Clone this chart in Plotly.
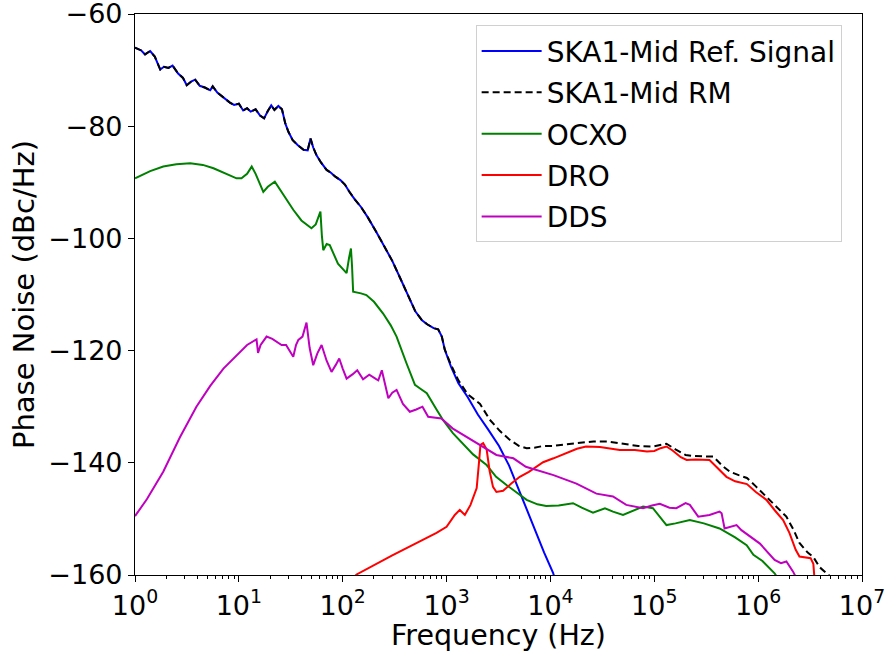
import plotly.graph_objects as go

# ---- data ----
ref_freq = [1, 1.15, 1.25, 1.4, 1.55, 1.75, 1.9, 2.1, 2.3, 2.6, 2.9, 3.15, 3.5, 3.8, 4.2, 4.7, 5.3, 5.6,
            6.2, 7.0, 8.2, 9.0, 10, 11, 12, 13, 14.5, 16, 17.5, 19, 20.5, 22, 24, 26, 28, 30, 33, 37, 42,
            46, 49, 52, 56, 62, 70, 77, 85, 95, 105, 115, 130, 150, 175, 210, 250, 300, 360, 430, 500,
            580, 650, 750, 830, 900, 960, 1100, 1300, 1600, 2000, 2500, 3200, 4000, 5000, 6000, 7300,
            8700, 10600, 12000]
ref_db = [-66.0, -66.5, -67.2, -66.6, -67.6, -69.9, -69.4, -69.6, -69.2, -70.6, -71.4, -72.7, -72.0,
          -71.7, -72.8, -73.1, -73.6, -72.9, -74.0, -74.8, -75.8, -76.2, -76.0, -77.2, -76.8, -77.4,
          -77.0, -78.1, -78.6, -77.3, -76.3, -77.1, -76.4, -77.0, -79.5, -81.0, -82.5, -83.4, -84.2,
          -84.3, -82.2, -83.8, -85.2, -86.5, -87.8, -88.3, -89.0, -89.6, -90.4, -91.6, -93.0, -94.4,
          -96.3, -98.8, -101.3, -104.0, -107.2, -110.4, -113.0, -114.6, -115.3, -116.0, -116.2,
          -117.5, -119.8, -122.8, -125.8, -128.3, -131.4, -134.0, -137.0, -140.5, -145.0, -148.5,
          -152.5, -156.0, -159.6, -163.0]

rm_split = 65  # RM follows the reference signal up to ~960 Hz
rm_freq_hi = [1100, 1300, 1600, 2100, 2600, 3250, 4000, 5000, 5900, 7000, 8500, 10500, 14000, 20000,
              26000, 35000, 50000, 70000, 97000, 115000, 131000, 160000, 200000, 240000, 300000,
              370000, 450000, 535000, 650000, 780000, 950000, 1.2e6, 1.5e6, 1.87e6, 2.2e6, 2.5e6,
              3.0e6, 3.4e6, 3.9e6, 4.9e6, 5.5e6]
rm_db_hi = [-122.5, -125.3, -127.8, -129.5, -132.3, -134.3, -135.8, -137.0, -137.4, -137.3, -137.0,
            -137.0, -136.7, -136.4, -136.2, -136.2, -136.6, -137.0, -137.1, -136.8, -136.6, -137.6,
            -138.6, -138.8, -138.8, -138.9, -140.5, -141.6, -142.2, -142.7, -144.2, -146.0, -147.8,
            -149.6, -152.0, -154.3, -156.0, -156.8, -158.6, -160.3, -161.0]
rm_freq = ref_freq[:rm_split] + rm_freq_hi
rm_db = ref_db[:rm_split] + rm_db_hi

ocxo_freq = [1, 1.4, 1.87, 2.5, 3.4, 4.5, 5.7, 7, 8.2, 9.5, 10.6, 12, 13.3, 14.5, 17.2, 19, 22.2, 26,
             33.4, 40, 50, 55, 61, 63, 65, 70, 75, 90, 109, 115, 120, 123, 126, 150, 169, 200, 245,
             290, 330, 412, 496, 560, 645, 800, 927, 1150, 1340, 1800, 2430, 3000, 3800, 5000, 5900,
             7500, 9100, 12000, 16500, 20000, 25700, 33500, 40000, 50000, 62000, 78000, 97000,
             115000, 131000, 160000, 220000, 300000, 425000, 600000, 775000, 900000, 1.1e6, 1.44e6,
             1.6e6]
ocxo_db = [-89.3, -88.0, -87.2, -86.8, -86.6, -86.9, -87.5, -88.2, -88.7, -89.3, -89.3, -88.5, -87.2,
           -88.5, -91.7, -90.8, -89.9, -91.8, -94.9, -96.8, -98.2, -97.5, -95.2, -99.5, -102.1,
           -101.0, -101.2, -104.5, -106.2, -103.5, -101.8, -105.0, -109.5, -109.8, -110.1, -111.3,
           -113.4, -115.5, -117.5, -122.3, -126.1, -126.8, -127.6, -130.5, -132.4, -134.7, -136.0,
           -138.5, -140.4, -142.5, -144.0, -145.7, -146.6, -147.4, -147.7, -147.6, -147.2, -148.0,
           -148.9, -148.1, -148.7, -149.3, -148.6, -147.8, -148.1, -149.8, -151.1, -150.8, -150.2,
           -150.8, -151.7, -153.3, -154.7, -156.4, -157.5, -159.7, -161.0]

dro_freq = [100, 136, 300, 553, 800, 1000, 1200, 1340, 1500, 1700, 1950, 2050, 2120, 2250, 2430, 2600,
            2800, 3020, 3500, 4200, 5070, 6200, 7350, 8500, 10700, 12500, 15000, 18000, 22000, 30000,
            46500, 65000, 85000, 100000, 115000, 131000, 150000, 180000, 205000, 250000, 340000,
            400000, 495000, 600000, 780000, 950000, 1.2e6, 1.45e6, 1.74e6, 2.0e6, 2.3e6, 2.5e6,
            3.2e6, 3.4e6, 3.5e6]
dro_db = [-162.5, -159.9, -156.5, -154.1, -152.5, -151.4, -149.3, -148.4, -149.3, -147.5, -144.5,
          -140.0, -136.8, -136.5, -137.6, -141.5, -144.3, -145.2, -145.0, -143.7, -142.5, -141.6,
          -140.7, -139.9, -139.2, -138.7, -138.1, -137.5, -137.1, -137.2, -137.7, -137.7, -138.0,
          -137.9, -137.4, -137.1, -137.8, -139.0, -139.5, -139.4, -139.5, -140.8, -142.5, -143.3,
          -143.8, -145.2, -146.6, -148.5, -150.2, -152.5, -155.5, -156.7, -157.0, -158.0, -161.0]

dds_freq = [1, 1.3, 1.87, 2.7, 3.9, 5.3, 7.1, 9.5, 12, 14.8, 15.3, 16.2, 18.5, 21, 25.8, 28.5, 33.4,
            35.5, 37.4, 41, 44.8, 48, 52, 57, 62.6, 70, 78, 86, 92.6, 100, 109, 125, 138, 157, 180,
            210, 220, 238, 275, 300, 330, 380, 443, 510, 586, 665, 890, 1150, 1700, 2430, 3020, 4400,
            5800, 10700, 17800, 27700, 40000, 53700, 78000, 95000, 113000, 140000, 163000, 200000,
            220000, 265000, 340000, 425000, 445000, 475000, 620000, 690000, 1.04e6, 1.44e6, 1.66e6,
            1.87e6, 2.17e6, 2.4e6]
dds_db = [-149.5, -146.5, -141.6, -135.5, -130.0, -126.3, -123.2, -120.8, -119.0, -118.0, -120.4,
          -119.0, -117.5, -117.9, -119.0, -119.0, -121.1, -119.0, -118.1, -117.5, -115.0, -119.5,
          -122.6, -120.5, -119.0, -121.8, -123.8, -122.5, -121.4, -123.2, -125.0, -124.2, -123.5,
          -125.1, -124.3, -125.1, -125.3, -123.5, -128.5, -127.5, -127.0, -129.5, -130.9, -130.5,
          -130.0, -131.8, -132.1, -133.9, -135.8, -137.4, -138.6, -139.2, -140.7, -142.2, -143.7,
          -145.5, -146.0, -147.5, -148.1, -147.6, -147.3, -148.0, -148.1, -147.2, -147.5, -149.6,
          -149.3, -148.7, -149.0, -151.7, -151.1, -152.0, -154.4, -157.3, -157.9, -157.6, -159.4,
          -161.0]

series = [
    ("SKA1-Mid Ref. Signal", ref_freq, ref_db, "#0000ff", "solid"),
    ("SKA1-Mid RM", rm_freq, rm_db, "#000000", "7px,4px"),
    ("OCXO", ocxo_freq, ocxo_db, "#008000", "solid"),
    ("DRO", dro_freq, dro_db, "#ff0000", "solid"),
    ("DDS", dds_freq, dds_db, "#bf00bf", "solid"),
]

x_ticks = [10 ** k for k in range(8)]
x_ticktext = ["10<sup>%d</sup>" % k for k in range(8)]
x_minor = [m * 10 ** k for k in range(7) for m in range(2, 10)]
y_ticks = [-160, -140, -120, -100, -80, -60]

fig = go.Figure()
for i, (name, fx, fy, col, dash) in enumerate(series):
    fig.add_trace(go.Scatter(x=fx, y=fy, mode="lines", name=name, legendgroup=str(i),
                             line=dict(color=col, width=2, dash=dash)))

font = "DejaVu Sans, Arial, sans-serif"
fig.update_layout(
    width=889, height=652,
    margin=dict(l=135, r=27, t=14, b=77),
    paper_bgcolor="white", plot_bgcolor="white",
    font=dict(family=font, size=27, color="black"),
    showlegend=True,
    legend=dict(x=0.972, y=0.98, xanchor="right", yanchor="top",
                bgcolor="rgba(255,255,255,0.9)", bordercolor="#d0d0d0", borderwidth=1,
                font=dict(size=28), tracegroupgap=2, itemwidth=60),
    xaxis=dict(type="log", range=[0, 7], tickvals=x_ticks, ticktext=x_ticktext,
               ticks="outside", ticklen=6, tickwidth=1.2, tickcolor="black",
               minor=dict(tickvals=x_minor, ticks="outside", ticklen=3, tickcolor="black", tickwidth=1),
               showline=True, linecolor="black", linewidth=1.2, mirror=True, showgrid=False,
               zeroline=False, tickfont=dict(size=27), automargin=False, ticklabeloverflow="allow",
               title=dict(text="Frequency (Hz)", font=dict(size=28.5), standoff=3)),
    yaxis=dict(range=[-160, -60], tickvals=y_ticks, ticks="outside", ticklen=6, tickwidth=1.2,
               tickcolor="black", showline=True, linecolor="black", linewidth=1.2, mirror=True,
               showgrid=False, zeroline=False, tickfont=dict(size=27), automargin=False,
               ticklabeloverflow="allow",
               title=dict(text="Phase Noise (dBc/Hz)", font=dict(size=29), standoff=5)),
)

fig.write_html("out.html", config={"displayModeBar": False},
               post_script="document.body.style.margin='0px';document.body.style.overflow='hidden';")
